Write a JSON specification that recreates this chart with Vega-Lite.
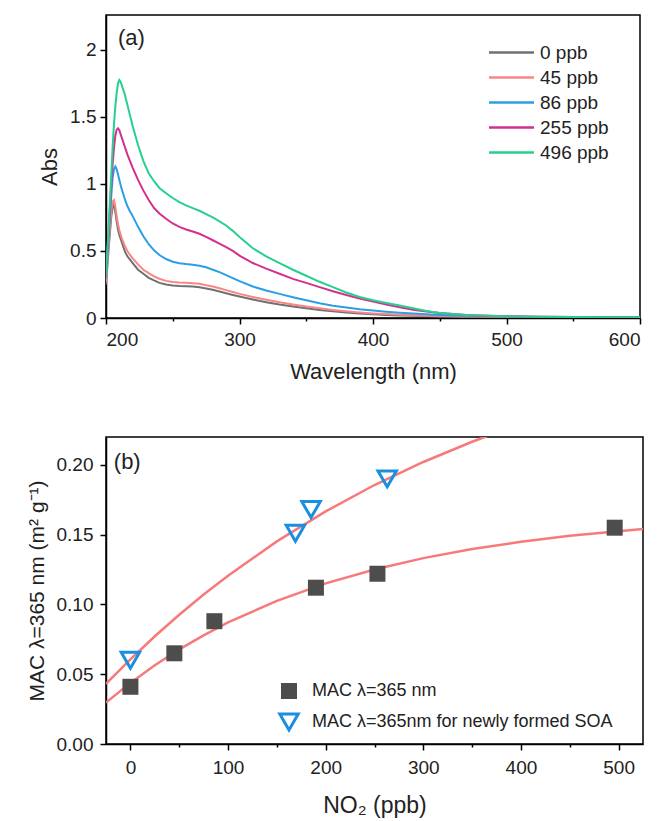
{
  "$schema": "https://vega.github.io/schema/vega-lite/v6.json",
  "padding": {"top": 14, "left": 25, "right": 5, "bottom": 5},
  "spacing": 53,
  "config": {
    "font": "Liberation Sans",
    "view": {"stroke": "black", "strokeWidth": 1.5},
    "axis": {"domainColor": "black", "domainWidth": 1.5, "tickColor": "black", "tickWidth": 1.5, "labelColor": "#222", "titleColor": "#222", "labelFontSize": 19, "titleFontWeight": "normal", "grid": false, "labelFont": "Liberation Sans", "titleFont": "Liberation Sans"},
    "legend": {"labelFont": "Liberation Sans", "labelColor": "#222"}
  },
  "vconcat": [
    {
      "width": 534,
      "height": 303,
      "layer": [
        {
          "data": {"values": [
            {"wl":200,"0 ppb":0.25,"45 ppb":0.27,"86 ppb":0.30,"255 ppb":0.33,"496 ppb":0.32},
            {"wl":202,"0 ppb":0.52,"45 ppb":0.55,"86 ppb":0.60,"255 ppb":0.65,"496 ppb":0.68},
            {"wl":204,"0 ppb":0.76,"45 ppb":0.80,"86 ppb":0.92,"255 ppb":1.00,"496 ppb":1.08},
            {"wl":205,"0 ppb":0.83,"45 ppb":0.87,"86 ppb":1.05,"255 ppb":1.15,"496 ppb":1.28},
            {"wl":206,"0 ppb":0.845,"45 ppb":0.88,"86 ppb":1.11,"255 ppb":1.27,"496 ppb":1.45},
            {"wl":207,"0 ppb":0.79,"45 ppb":0.83,"86 ppb":1.13,"255 ppb":1.36,"496 ppb":1.58},
            {"wl":208,"0 ppb":0.72,"45 ppb":0.76,"86 ppb":1.11,"255 ppb":1.405,"496 ppb":1.68},
            {"wl":209,"0 ppb":0.66,"45 ppb":0.70,"86 ppb":1.07,"255 ppb":1.415,"496 ppb":1.75},
            {"wl":210,"0 ppb":0.62,"45 ppb":0.655,"86 ppb":1.03,"255 ppb":1.40,"496 ppb":1.775},
            {"wl":211,"0 ppb":0.59,"45 ppb":0.62,"86 ppb":0.99,"255 ppb":1.37,"496 ppb":1.76},
            {"wl":212,"0 ppb":0.56,"45 ppb":0.59,"86 ppb":0.955,"255 ppb":1.34,"496 ppb":1.73},
            {"wl":214,"0 ppb":0.50,"45 ppb":0.54,"86 ppb":0.89,"255 ppb":1.28,"496 ppb":1.67},
            {"wl":216,"0 ppb":0.46,"45 ppb":0.50,"86 ppb":0.835,"255 ppb":1.22,"496 ppb":1.59},
            {"wl":218,"0 ppb":0.435,"45 ppb":0.47,"86 ppb":0.795,"255 ppb":1.17,"496 ppb":1.51},
            {"wl":220,"0 ppb":0.41,"45 ppb":0.445,"86 ppb":0.76,"255 ppb":1.12,"496 ppb":1.43},
            {"wl":224,"0 ppb":0.36,"45 ppb":0.40,"86 ppb":0.68,"255 ppb":1.03,"496 ppb":1.29},
            {"wl":228,"0 ppb":0.33,"45 ppb":0.36,"86 ppb":0.61,"255 ppb":0.95,"496 ppb":1.17},
            {"wl":232,"0 ppb":0.30,"45 ppb":0.335,"86 ppb":0.55,"255 ppb":0.88,"496 ppb":1.08},
            {"wl":236,"0 ppb":0.28,"45 ppb":0.31,"86 ppb":0.505,"255 ppb":0.82,"496 ppb":1.02},
            {"wl":240,"0 ppb":0.262,"45 ppb":0.293,"86 ppb":0.47,"255 ppb":0.78,"496 ppb":0.97},
            {"wl":245,"0 ppb":0.25,"45 ppb":0.277,"86 ppb":0.44,"255 ppb":0.74,"496 ppb":0.93},
            {"wl":250,"0 ppb":0.243,"45 ppb":0.268,"86 ppb":0.42,"255 ppb":0.705,"496 ppb":0.895},
            {"wl":255,"0 ppb":0.239,"45 ppb":0.264,"86 ppb":0.408,"255 ppb":0.68,"496 ppb":0.865},
            {"wl":260,"0 ppb":0.237,"45 ppb":0.262,"86 ppb":0.402,"255 ppb":0.66,"496 ppb":0.84},
            {"wl":265,"0 ppb":0.235,"45 ppb":0.26,"86 ppb":0.398,"255 ppb":0.645,"496 ppb":0.82},
            {"wl":270,"0 ppb":0.23,"45 ppb":0.255,"86 ppb":0.39,"255 ppb":0.628,"496 ppb":0.80},
            {"wl":275,"0 ppb":0.22,"45 ppb":0.245,"86 ppb":0.378,"255 ppb":0.605,"496 ppb":0.775},
            {"wl":280,"0 ppb":0.21,"45 ppb":0.235,"86 ppb":0.36,"255 ppb":0.58,"496 ppb":0.75},
            {"wl":285,"0 ppb":0.198,"45 ppb":0.222,"86 ppb":0.342,"255 ppb":0.555,"496 ppb":0.72},
            {"wl":290,"0 ppb":0.185,"45 ppb":0.208,"86 ppb":0.32,"255 ppb":0.528,"496 ppb":0.69},
            {"wl":295,"0 ppb":0.172,"45 ppb":0.194,"86 ppb":0.297,"255 ppb":0.50,"496 ppb":0.65},
            {"wl":300,"0 ppb":0.16,"45 ppb":0.18,"86 ppb":0.275,"255 ppb":0.465,"496 ppb":0.605},
            {"wl":310,"0 ppb":0.138,"45 ppb":0.157,"86 ppb":0.235,"255 ppb":0.41,"496 ppb":0.52},
            {"wl":320,"0 ppb":0.118,"45 ppb":0.136,"86 ppb":0.205,"255 ppb":0.368,"496 ppb":0.46},
            {"wl":330,"0 ppb":0.10,"45 ppb":0.117,"86 ppb":0.18,"255 ppb":0.33,"496 ppb":0.41},
            {"wl":340,"0 ppb":0.085,"45 ppb":0.10,"86 ppb":0.155,"255 ppb":0.292,"496 ppb":0.36},
            {"wl":350,"0 ppb":0.072,"45 ppb":0.085,"86 ppb":0.132,"255 ppb":0.262,"496 ppb":0.315},
            {"wl":360,"0 ppb":0.06,"45 ppb":0.072,"86 ppb":0.11,"255 ppb":0.23,"496 ppb":0.27},
            {"wl":370,"0 ppb":0.05,"45 ppb":0.06,"86 ppb":0.092,"255 ppb":0.20,"496 ppb":0.23},
            {"wl":380,"0 ppb":0.041,"45 ppb":0.05,"86 ppb":0.078,"255 ppb":0.172,"496 ppb":0.19},
            {"wl":390,"0 ppb":0.034,"45 ppb":0.041,"86 ppb":0.065,"255 ppb":0.145,"496 ppb":0.157},
            {"wl":400,"0 ppb":0.028,"45 ppb":0.034,"86 ppb":0.056,"255 ppb":0.122,"496 ppb":0.132},
            {"wl":410,"0 ppb":0.023,"45 ppb":0.029,"86 ppb":0.047,"255 ppb":0.10,"496 ppb":0.112},
            {"wl":420,"0 ppb":0.019,"45 ppb":0.024,"86 ppb":0.039,"255 ppb":0.08,"496 ppb":0.093},
            {"wl":430,"0 ppb":0.016,"45 ppb":0.02,"86 ppb":0.033,"255 ppb":0.062,"496 ppb":0.072},
            {"wl":440,"0 ppb":0.014,"45 ppb":0.017,"86 ppb":0.028,"255 ppb":0.048,"496 ppb":0.053},
            {"wl":450,"0 ppb":0.012,"45 ppb":0.015,"86 ppb":0.023,"255 ppb":0.037,"496 ppb":0.038},
            {"wl":460,"0 ppb":0.011,"45 ppb":0.013,"86 ppb":0.019,"255 ppb":0.029,"496 ppb":0.029},
            {"wl":470,"0 ppb":0.01,"45 ppb":0.012,"86 ppb":0.016,"255 ppb":0.023,"496 ppb":0.023},
            {"wl":480,"0 ppb":0.009,"45 ppb":0.011,"86 ppb":0.014,"255 ppb":0.019,"496 ppb":0.019},
            {"wl":500,"0 ppb":0.008,"45 ppb":0.009,"86 ppb":0.011,"255 ppb":0.013,"496 ppb":0.013},
            {"wl":520,"0 ppb":0.007,"45 ppb":0.008,"86 ppb":0.009,"255 ppb":0.01,"496 ppb":0.01},
            {"wl":550,"0 ppb":0.006,"45 ppb":0.006,"86 ppb":0.007,"255 ppb":0.008,"496 ppb":0.008},
            {"wl":575,"0 ppb":0.005,"45 ppb":0.005,"86 ppb":0.006,"255 ppb":0.006,"496 ppb":0.006},
            {"wl":600,"0 ppb":0.005,"45 ppb":0.005,"86 ppb":0.005,"255 ppb":0.005,"496 ppb":0.005}
          ]},
          "transform": [{"fold": ["0 ppb", "45 ppb", "86 ppb", "255 ppb", "496 ppb"], "as": ["conc", "abs"]}],
          "mark": {"type": "line", "strokeWidth": 2, "clip": true},
          "encoding": {
            "x": {"field": "wl", "type": "quantitative", "scale": {"domain": [200, 600], "nice": false},
                  "axis": {"title": "Wavelength (nm)", "titleFontSize": 22, "titlePadding": 12, "values": [200, 250, 300, 350, 400, 450, 500, 550, 600], "labelExpr": "datum.value % 100 === 0 ? datum.label : ''", "tickSize": {"condition": {"test": "datum.value % 100 === 0", "value": 6}, "value": 3}, "labelPadding": 6}},
            "y": {"field": "abs", "type": "quantitative", "scale": {"domain": [0, 2.26], "nice": false},
                  "axis": {"title": "Abs", "titleFontSize": 22, "titlePadding": 8, "values": [0, 0.25, 0.5, 0.75, 1, 1.25, 1.5, 1.75, 2], "format": "~g", "labelExpr": "datum.value % 0.5 === 0 ? datum.label : ''", "tickSize": {"condition": {"test": "datum.value % 0.5 === 0", "value": 6}, "value": 3}, "labelPadding": 4}},
            "color": {"field": "conc", "type": "nominal",
                      "scale": {"domain": ["0 ppb", "45 ppb", "86 ppb", "255 ppb", "496 ppb"], "range": ["#707070", "#f98686", "#2b9fe6", "#d2318f", "#27d08f"]},
                      "legend": {"title": null, "orient": "none", "legendX": 396, "legendY": 28, "symbolType": "M-3,0H3", "symbolSize": 225, "symbolStrokeWidth": 2.5, "labelFontSize": 19, "labelOffset": 19, "rowPadding": 5}}
          }
        },
        {
          "data": {"values": [{}]},
          "mark": {"type": "text", "text": "(a)", "align": "left", "baseline": "middle", "fontSize": 22, "color": "#222"},
          "encoding": {"x": {"datum": 209}, "y": {"datum": 2.09}}
        }
      ]
    },
    {
      "width": 537,
      "height": 307,
      "layer": [
        {
          "data": {"values": [
            {"fit": "all", "no2": -25, "mac": 0.0297},
            {"fit": "all", "no2": 0, "mac": 0.0438},
            {"fit": "all", "no2": 25, "mac": 0.0564},
            {"fit": "all", "no2": 50, "mac": 0.0678},
            {"fit": "all", "no2": 75, "mac": 0.0779},
            {"fit": "all", "no2": 100, "mac": 0.0871},
            {"fit": "all", "no2": 150, "mac": 0.1026},
            {"fit": "all", "no2": 200, "mac": 0.1151},
            {"fit": "all", "no2": 250, "mac": 0.1251},
            {"fit": "all", "no2": 300, "mac": 0.1332},
            {"fit": "all", "no2": 350, "mac": 0.1397},
            {"fit": "all", "no2": 400, "mac": 0.1449},
            {"fit": "all", "no2": 450, "mac": 0.1492},
            {"fit": "all", "no2": 500, "mac": 0.1525},
            {"fit": "all", "no2": 525, "mac": 0.154},
            {"fit": "new", "no2": -25, "mac": 0.0431},
            {"fit": "new", "no2": 0, "mac": 0.0607},
            {"fit": "new", "no2": 25, "mac": 0.0772},
            {"fit": "new", "no2": 50, "mac": 0.0926},
            {"fit": "new", "no2": 75, "mac": 0.1071},
            {"fit": "new", "no2": 100, "mac": 0.1206},
            {"fit": "new", "no2": 150, "mac": 0.1452},
            {"fit": "new", "no2": 200, "mac": 0.1667},
            {"fit": "new", "no2": 250, "mac": 0.1856},
            {"fit": "new", "no2": 300, "mac": 0.2021},
            {"fit": "new", "no2": 350, "mac": 0.2166},
            {"fit": "new", "no2": 380, "mac": 0.2245}
          ]},
          "mark": {"type": "line", "color": "#f77a7a", "strokeWidth": 2.5, "clip": true},
          "encoding": {
            "x": {"field": "no2", "type": "quantitative", "scale": {"domain": [-25, 525], "nice": false},
                  "axis": {"title": "NO₂ (ppb)", "titleFontSize": 23, "titlePadding": 17, "values": [0, 50, 100, 150, 200, 250, 300, 350, 400, 450, 500], "labelExpr": "datum.value % 100 === 0 ? datum.label : ''", "tickSize": {"condition": {"test": "datum.value % 100 === 0", "value": 6}, "value": 3}, "labelPadding": 8}},
            "y": {"field": "mac", "type": "quantitative", "scale": {"domain": [0, 0.22], "nice": false},
                  "axis": {"title": "MAC λ=365 nm (m² g⁻¹)", "titleFontSize": 21, "titlePadding": 9, "values": [0, 0.05, 0.1, 0.15, 0.2], "format": ".2f", "tickSize": 6, "labelPadding": 7}},
            "detail": {"field": "fit", "type": "nominal"}
          }
        },
        {
          "data": {"values": [
            {"series": "MAC λ=365 nm", "no2": 0, "mac": 0.041},
            {"series": "MAC λ=365 nm", "no2": 45, "mac": 0.065},
            {"series": "MAC λ=365 nm", "no2": 86, "mac": 0.088},
            {"series": "MAC λ=365 nm", "no2": 190, "mac": 0.112},
            {"series": "MAC λ=365 nm", "no2": 253, "mac": 0.122},
            {"series": "MAC λ=365 nm", "no2": 496, "mac": 0.155},
            {"series": "MAC λ=365nm for newly formed SOA", "no2": 0, "mac": 0.060},
            {"series": "MAC λ=365nm for newly formed SOA", "no2": 169, "mac": 0.151},
            {"series": "MAC λ=365nm for newly formed SOA", "no2": 185, "mac": 0.168},
            {"series": "MAC λ=365nm for newly formed SOA", "no2": 263, "mac": 0.190}
          ]},
          "mark": {"type": "point", "opacity": 1},
          "encoding": {
            "x": {"field": "no2", "type": "quantitative"},
            "y": {"field": "mac", "type": "quantitative"},
            "shape": {"field": "series", "type": "nominal", "scale": {"domain": ["MAC λ=365 nm", "MAC λ=365nm for newly formed SOA"], "range": ["square", "triangle-down"]},
                      "legend": {"title": null, "orient": "none", "legendX": 172, "legendY": 667, "labelFontSize": 18, "labelLimit": 500, "rowPadding": 8, "labelOffset": 12}},
            "size": {"field": "series", "type": "nominal", "scale": {"domain": ["MAC λ=365 nm", "MAC λ=365nm for newly formed SOA"], "range": [256, 340]}},
            "fill": {"field": "series", "type": "nominal", "scale": {"domain": ["MAC λ=365 nm", "MAC λ=365nm for newly formed SOA"], "range": ["#4d4d4d", "transparent"]}},
            "stroke": {"field": "series", "type": "nominal", "scale": {"domain": ["MAC λ=365 nm", "MAC λ=365nm for newly formed SOA"], "range": ["#4d4d4d", "#1a8fe0"]}},
            "strokeWidth": {"field": "series", "type": "nominal", "scale": {"domain": ["MAC λ=365 nm", "MAC λ=365nm for newly formed SOA"], "range": [0, 3]}}
          }
        },
        {
          "data": {"values": [{}]},
          "mark": {"type": "text", "text": "(b)", "align": "left", "baseline": "middle", "fontSize": 22, "color": "#222"},
          "encoding": {"x": {"datum": -17}, "y": {"datum": 0.202}}
        }
      ]
    }
  ]
}
